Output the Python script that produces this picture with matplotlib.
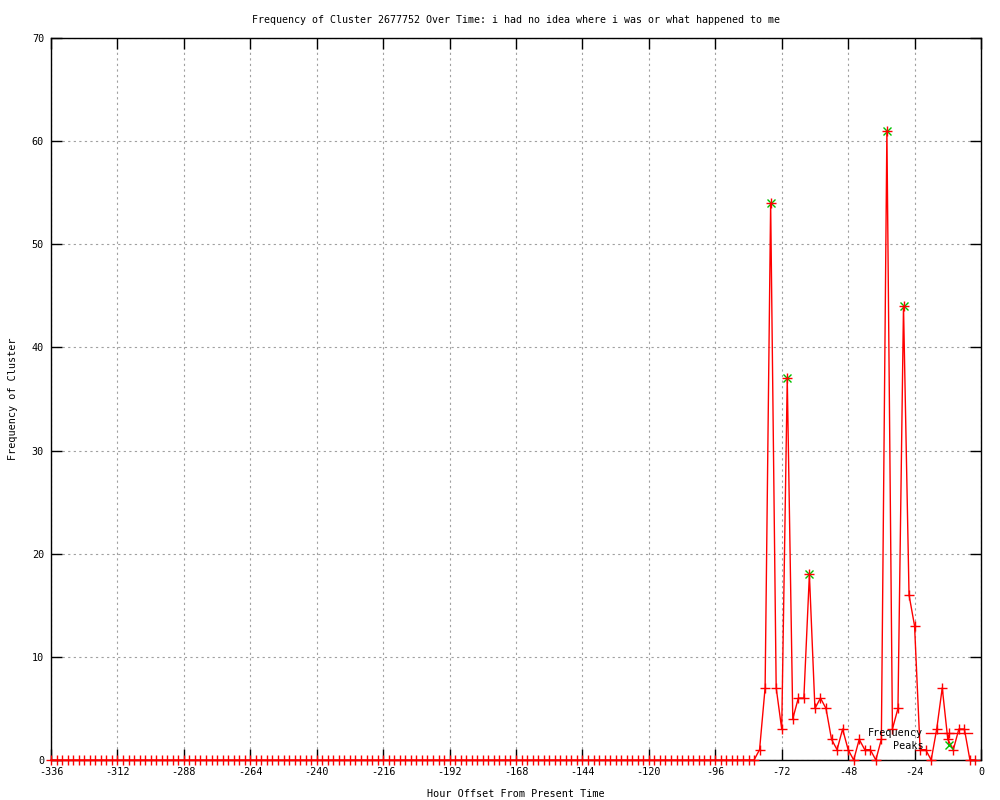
import numpy as np
import matplotlib
matplotlib.use("Agg")
import matplotlib.pyplot as plt

# hour offsets, one sample every 2 hours
hours = np.arange(-336, 0, 2)

# counts from -336 to -82 (all zero), then the active part from -80 to -2
quiet = [
    0, 0, 0, 0, 0, 0, 0, 0, 0, 0, 0, 0, 0, 0, 0, 0,
    0, 0, 0, 0, 0, 0, 0, 0, 0, 0, 0, 0, 0, 0, 0, 0,
    0, 0, 0, 0, 0, 0, 0, 0, 0, 0, 0, 0, 0, 0, 0, 0,
    0, 0, 0, 0, 0, 0, 0, 0, 0, 0, 0, 0, 0, 0, 0, 0,
    0, 0, 0, 0, 0, 0, 0, 0, 0, 0, 0, 0, 0, 0, 0, 0,
    0, 0, 0, 0, 0, 0, 0, 0, 0, 0, 0, 0, 0, 0, 0, 0,
    0, 0, 0, 0, 0, 0, 0, 0, 0, 0, 0, 0, 0, 0, 0, 0,
    0, 0, 0, 0, 0, 0, 0, 0, 0, 0, 0, 0, 0, 0, 0, 0,
]
active = [1, 7, 54, 7, 3, 37, 4, 6, 6, 18, 5, 6, 5, 2, 1, 3, 1, 0, 2, 1,
          1, 0, 2, 61, 3, 5, 44, 16, 13, 1, 1, 0, 3, 7, 2, 1, 3, 3, 0, 0]
freq = quiet + active

peak_hours = [-76, -70, -62, -34, -28]
peak_values = [54, 37, 18, 61, 44]

title = "Frequency of Cluster 2677752 Over Time: i had no idea where i was or what happened to me"

plt.rcParams['font.family'] = ['DejaVu Sans Mono']
plt.rcParams['font.size'] = 7.3

fig = plt.figure(figsize=(10, 8), dpi=100)
ax = fig.add_axes([0.051, 0.05, 0.930, 0.9025])

ax.plot(peak_hours, peak_values, linestyle='none', marker='x', color='#00c000',
        markersize=6, mew=1, label='Peaks', clip_on=False, zorder=3)
ax.plot(hours, freq, color='red', lw=1, marker='+', markersize=7, mew=1,
        label='Frequency', clip_on=False, zorder=4)

ax.set_xlim(-336, 0)
ax.set_ylim(0, 70)
ax.set_xticks(np.arange(-336, 1, 24))
ax.set_yticks(np.arange(0, 71, 10))
ax.set_xticklabels([str(t) for t in range(-336, 1, 24)])
ax.tick_params(direction='in', length=8, width=1, top=True, right=True, pad=5)
ax.grid(True, color='#a0a0a0', linestyle=(0, (2, 3)), lw=0.8)
for s in ax.spines.values():
    s.set_linewidth(1)

ax.set_title(title, fontsize=7.2, pad=11)
ax.set_xlabel("Hour Offset From Present Time", labelpad=9)
ax.set_ylabel("Frequency of Cluster", labelpad=10)

h, l = ax.get_legend_handles_labels()
order = [l.index('Frequency'), l.index('Peaks')]
ax.legend([h[i] for i in order], [l[i] for i in order], loc='lower right',
          frameon=False, markerfirst=False, handlelength=4.5, handletextpad=0.3,
          labelspacing=0.25, borderaxespad=0.5)

fig.savefig("out.png", dpi=100)
